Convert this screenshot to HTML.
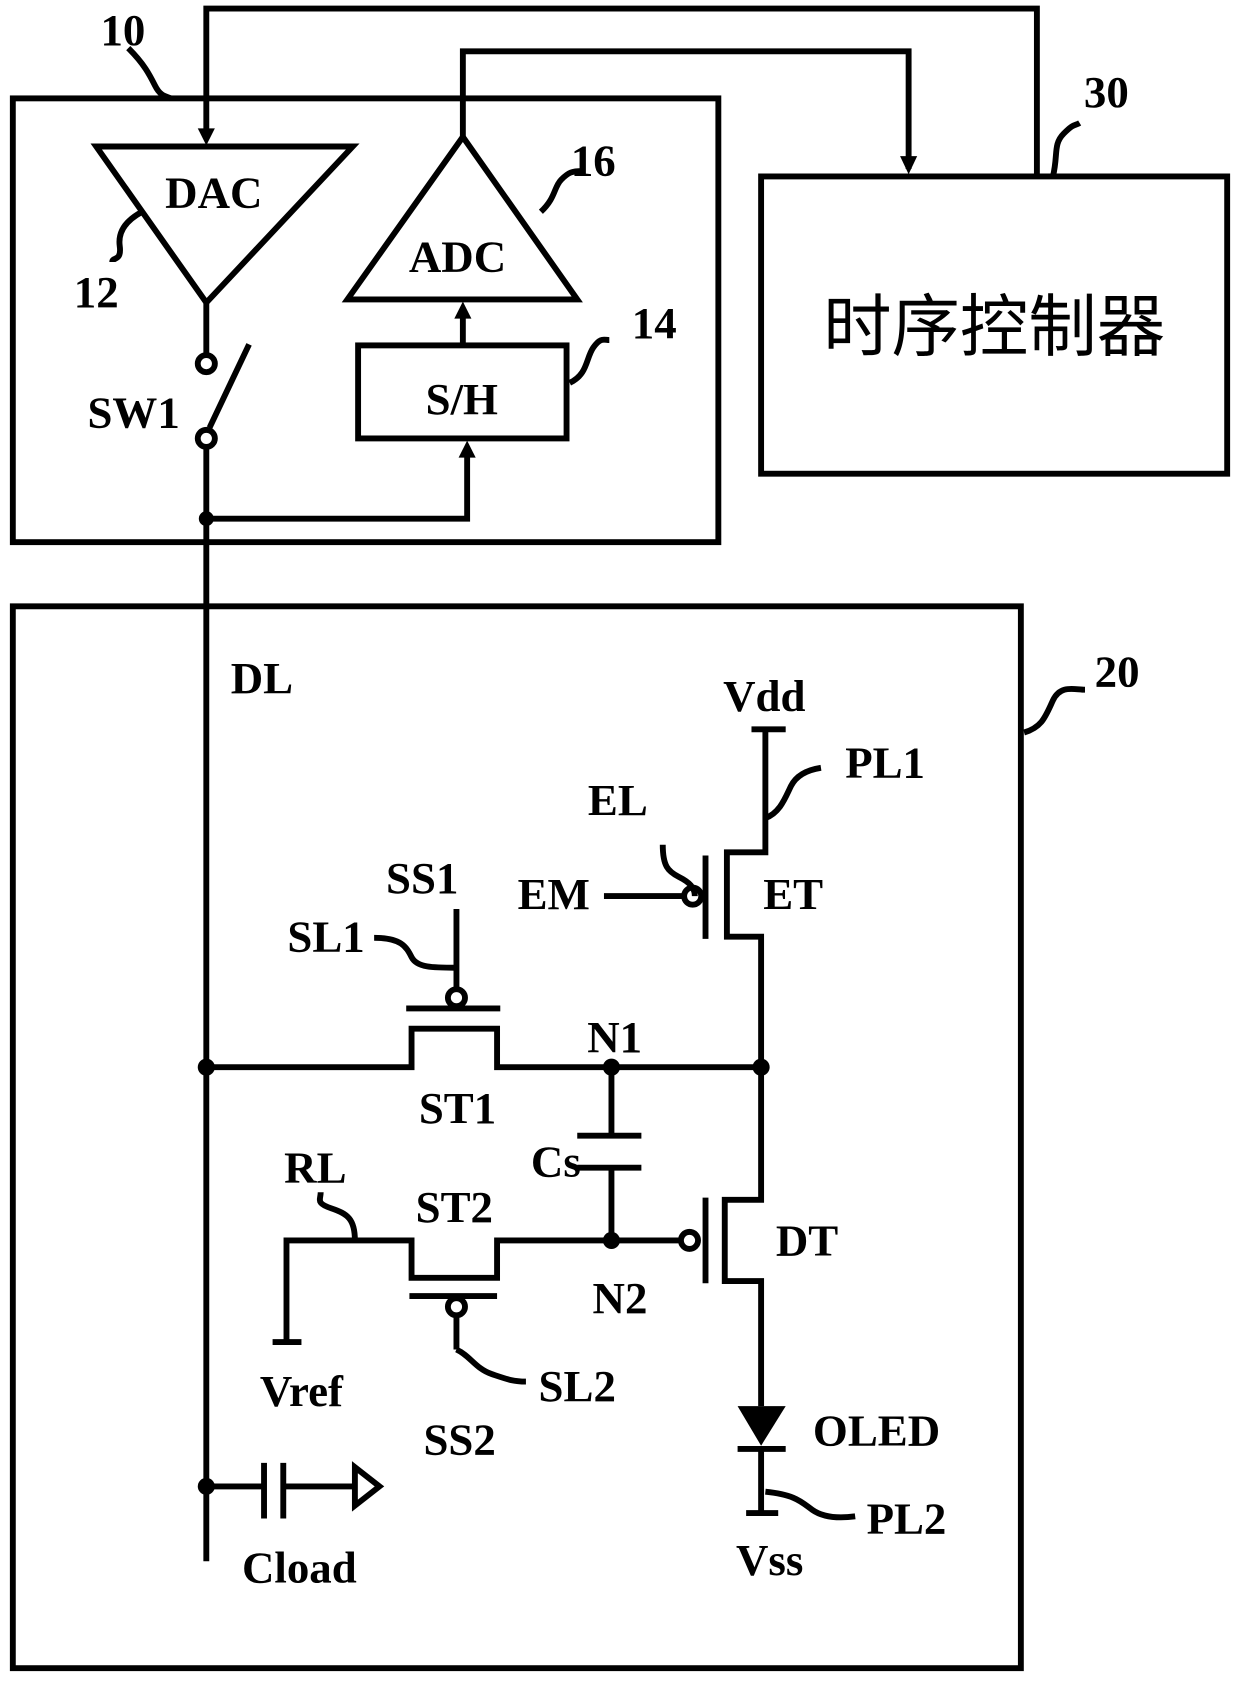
<!DOCTYPE html>
<html><head><meta charset="utf-8"><style>
html,body{margin:0;padding:0;background:#fff}
svg{display:block}
text{font-family:"Liberation Serif",serif;font-weight:bold;font-size:42px;fill:#000;text-anchor:middle}
</style></head><body>
<svg width="1240" height="1681" viewBox="0 0 1160 1572" preserveAspectRatio="none" xmlns="http://www.w3.org/2000/svg">
<g fill="none" stroke="#000" stroke-width="5.5">
<rect x="12" y="92" width="660" height="415"/>
<rect x="712" y="165" width="436" height="278"/>
<rect x="12" y="567" width="943" height="993"/>
<polyline points="193,130 193,8 970,8 970,165"/>
<polyline points="433,128 433,48 850,48 850,158"/>
<polygon points="90,137 330,137 193,283"/>
<polygon points="433,128 325,280 540,280"/>
<rect x="335" y="323" width="195" height="87"/>
<line x1="433" y1="323" x2="433" y2="290"/>
<polyline points="193,283 193,332"/>
<circle cx="193" cy="340" r="8"/>
<circle cx="193" cy="410" r="8"/>
<line x1="196" y1="400" x2="233" y2="322"/>
<polyline points="193,418 193,1460"/>
<polyline points="193,485 437,485 437,420"/>
<path d="M120,45 C135,60 140,70 145,80 S155,90 160,92"/>
<path d="M133,198 C120,205 110,215 112,230 S105,240 105,245"/>
<path d="M506,198 C520,185 518,175 525,168 S535,160 545,160"/>
<path d="M533,358 C550,350 548,335 555,325 S565,318 570,318"/>
<path d="M985,165 C990,145 985,135 995,125 S1005,118 1010,115"/>
<path d="M958,685 C975,680 978,670 985,655 S1005,645 1015,645"/>
<polyline points="193,998 385,998 385,962 465,962 465,998 712,998"/>
<line x1="380" y1="943" x2="468" y2="943"/>
<circle cx="427" cy="933" r="8"/>
<line x1="427" y1="925" x2="427" y2="850"/>
<path d="M350,877 C375,877 380,885 385,895 S405,905 427,905"/>
<line x1="572" y1="998" x2="572" y2="1062"/>
<line x1="540" y1="1062" x2="600" y2="1062"/>
<line x1="540" y1="1092" x2="600" y2="1092"/>
<line x1="572" y1="1092" x2="572" y2="1160"/>
<polyline points="268,1255 268,1160 385,1160 385,1195 465,1195 465,1160 637,1160"/>
<line x1="255" y1="1255" x2="282" y2="1255"/>
<line x1="383" y1="1212" x2="465" y2="1212"/>
<circle cx="427" cy="1222" r="8"/>
<line x1="427" y1="1230" x2="427" y2="1262"/>
<path d="M427,1262 C440,1268 445,1280 460,1285 S480,1292 492,1292"/>
<path d="M332,1160 C332,1140 325,1135 310,1130 S300,1122 300,1115"/>
<circle cx="645" cy="1160" r="8"/>
<line x1="660" y1="1120" x2="660" y2="1200"/>
<polyline points="712,998 712,1122 678,1122 678,1198 712,1198 712,1315"/>
<line x1="703" y1="682" x2="735" y2="682"/>
<polyline points="716,682 716,797 680,797 680,876 712,876 712,998"/>
<line x1="660" y1="800" x2="660" y2="878"/>
<circle cx="648" cy="838" r="8"/>
<line x1="565" y1="838" x2="640" y2="838"/>
<path d="M620,790 C620,810 625,815 635,820 S650,830 650,838"/>
<path d="M716,765 C730,760 735,745 740,735 S755,720 768,718"/>
<line x1="690" y1="1355" x2="735" y2="1355"/>
<line x1="712" y1="1355" x2="712" y2="1415"/>
<line x1="698" y1="1415" x2="728" y2="1415"/>
<path d="M716,1395 C745,1398 750,1405 760,1412 S785,1420 800,1418"/>
<line x1="193" y1="1390" x2="247" y2="1390"/>
<line x1="247" y1="1368" x2="247" y2="1420"/>
<line x1="265" y1="1368" x2="265" y2="1420"/>
<line x1="265" y1="1390" x2="330" y2="1390"/>
<polygon points="332,1372 355,1390 332,1408"/>
</g>
<g fill="#000">
<polygon points="185,120 201,120 193,136"/>
<polygon points="842,146 858,146 850,163"/>
<polygon points="425,298 441,298 433,282"/>
<polygon points="429,428 445,428 437,412"/>
<polygon points="690,1315 735,1315 712,1352"/>
<circle cx="193" cy="485" r="7"/>
<circle cx="193" cy="998" r="8"/>
<circle cx="572" cy="998" r="8"/>
<circle cx="712" cy="998" r="8"/>
<circle cx="572" cy="1160" r="8"/>
<circle cx="193" cy="1390" r="8"/>
</g>
<text x="115" y="42">10</text>
<text x="1035" y="100">30</text>
<text x="200" y="194">DAC</text>
<text x="428" y="254">ADC</text>
<text x="90" y="287">12</text>
<text x="555" y="164">16</text>
<text x="612" y="316">14</text>
<text x="432" y="387">S/H</text>
<text x="125" y="400">SW1</text>
<text x="1045" y="642">20</text>
<text x="930" y="328" style="font-family:'Noto Sans CJK SC',sans-serif;font-weight:normal;font-size:64px">时序控制器</text>
<text x="245" y="648">DL</text>
<text x="715" y="665">Vdd</text>
<text x="828" y="727">PL1</text>
<text x="578" y="762">EL</text>
<text x="518" y="850">EM</text>
<text x="742" y="850">ET</text>
<text x="395" y="835">SS1</text>
<text x="305" y="890">SL1</text>
<text x="575" y="984">N1</text>
<text x="428" y="1050">ST1</text>
<text x="520" y="1100">Cs</text>
<text x="295" y="1106">RL</text>
<text x="425" y="1143">ST2</text>
<text x="755" y="1174">DT</text>
<text x="580" y="1228">N2</text>
<text x="282" y="1315">Vref</text>
<text x="540" y="1310">SL2</text>
<text x="430" y="1360">SS2</text>
<text x="820" y="1352">OLED</text>
<text x="848" y="1434">PL2</text>
<text x="720" y="1473">Vss</text>
<text x="280" y="1480">Cload</text>
</svg>
</body></html>
